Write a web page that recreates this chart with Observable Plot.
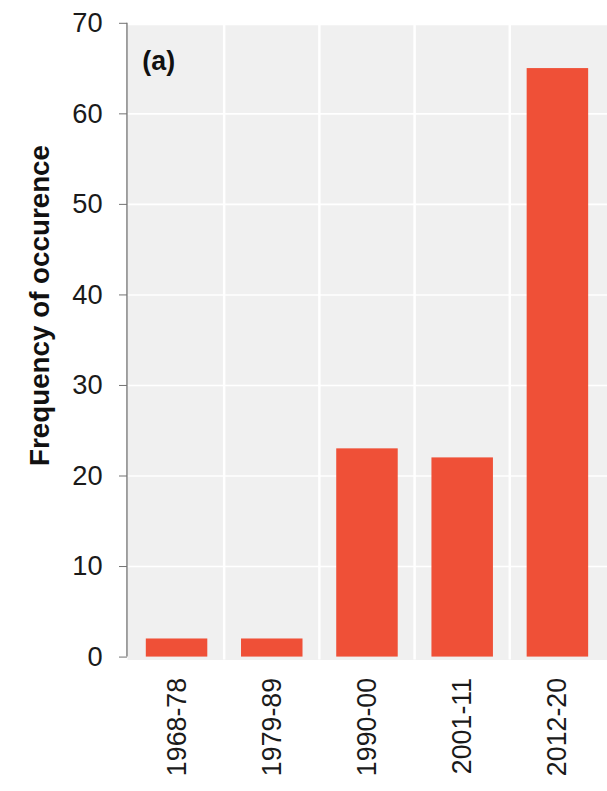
<!DOCTYPE html>
<html>
<head>
<meta charset="utf-8">
<script src="https://cdn.jsdelivr.net/npm/d3@7"></script>
<script src="https://cdn.jsdelivr.net/npm/@observablehq/plot@0.6"></script>
<style>
  html, body { margin: 0; padding: 0; background: white; overflow: hidden; }
</style>
</head>
<body>
<div id="chart"></div>
<script>
const periods = ["1968-78", "1979-89", "1990-00", "2001-11", "2012-20"];
const counts = [2, 2, 23, 22, 65];
const yTicks = [0, 10, 20, 30, 40, 50, 60, 70];
const yLabel = "Frequency of occurence";
const panelLabel = "(a)";

const font = "'Liberation Sans', Arial, Helvetica, sans-serif";

// vertical white gridlines at band boundaries + left axis line
function bandGridAndAxis(index, scales) {
  const x = scales.x, y = scales.y;
  const g = d3.create("svg:g");
  const gap = x.step() - x.bandwidth();
  for (const p of periods.slice(1)) {
    const xx = x(p) - gap / 2;
    g.append("line")
      .attr("x1", xx).attr("x2", xx)
      .attr("y1", y(70) + 2).attr("y2", y(0) + 3)
      .attr("stroke", "white").attr("stroke-width", 2.5);
  }
  const x0 = x.range()[0];
  g.append("line")
    .attr("x1", x0).attr("x2", x0)
    .attr("y1", y(70)).attr("y2", y(0))
    .attr("stroke", "#707070").attr("stroke-width", 1.3);
  return g.node();
}

const chart = Plot.plot({
  width: 612,
  height: 791,
  marginLeft: 128,
  marginRight: 0,
  marginTop: 23,
  marginBottom: 129,
  style: { fontFamily: font, background: "white", overflow: "visible" },
  x: { domain: periods, paddingInner: 0.35, paddingOuter: 0.175, label: null },
  y: { domain: [0, 70], label: null },
  marks: [
    Plot.frame({ fill: "#f0f0f0", stroke: null, insetTop: 2, insetBottom: -3 }),
    Plot.gridY(yTicks.slice(1, -1), { stroke: "white", strokeOpacity: 1, strokeWidth: 1.6 }),
    bandGridAndAxis,
    Plot.barY(counts, { x: periods, y: counts, fill: "#ef5037" }),
    Plot.axisY(yTicks, {
      tickSize: 8, tickPadding: 17, fontSize: 27.5, stroke: "#707070",
      fill: "#1a1a1a", label: null
    }),
    Plot.axisX({
      tickRotate: -90, tickSize: 0, tickPadding: 21, fontSize: 27,
      fill: "#1a1a1a", label: null
    }),
    Plot.text([yLabel], {
      frameAnchor: "left", dx: -88, dy: -35, rotate: -90,
      textAnchor: "middle", lineAnchor: "middle",
      fontSize: 28, fontWeight: "bold", fill: "#111", text: d => d
    }),
    Plot.text([panelLabel], {
      frameAnchor: "top-left", dx: 15, dy: 38, textAnchor: "start", lineAnchor: "middle",
      fontSize: 27, fontWeight: "bold", fill: "#111", text: d => d
    })
  ]
});
document.getElementById("chart").appendChild(chart);
</script>
</body>
</html>
